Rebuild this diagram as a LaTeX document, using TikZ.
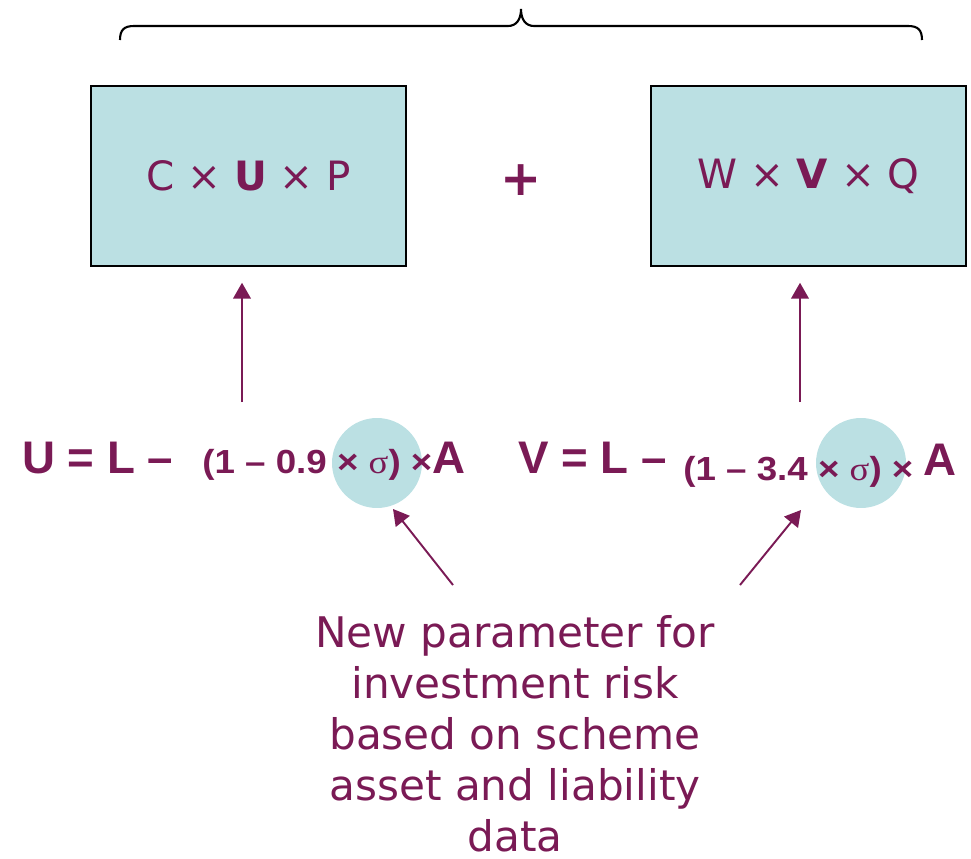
\documentclass[tikz,border=0pt]{standalone}
\usepackage{fontspec}
\usepackage{graphicx}
\setmainfont{DejaVu Sans}
\newfontfamily\eqfont{Liberation Sans}
\newfontfamily\greekfont{Liberation Serif}
\usetikzlibrary{arrows.meta}
\definecolor{plum}{HTML}{7A1A55}
\definecolor{paleteal}{HTML}{BBE0E3}

\begin{document}
\begin{tikzpicture}[x=0.02cm,y=-0.02cm,
  factor/.style={draw=black,line width=1.1pt,fill=paleteal,minimum width=6.3cm,
    minimum height=3.6cm,inner sep=0pt,text=plum,font=\fontsize{23}{27}\selectfont},
  spot/.style={circle,fill=paleteal,minimum size=1.8cm,inner sep=0pt},
  bigeq/.style={anchor=base west,inner sep=0pt,text=plum,
    font=\eqfont\bfseries\fontsize{26}{30}\selectfont},
  smalleq/.style={anchor=base west,inner sep=0pt,text=plum,
    font=\eqfont\bfseries\fontsize{19}{22}\selectfont},
  pointer/.style={draw=plum,line width=1.1pt,-{Triangle[length=9pt,width=10pt]}}]
\useasboundingbox (0,0) rectangle (971,859);
% brace over the two terms
\draw[line width=1.2pt] (120,40) .. controls (120,30) and (124,26) .. (134,26) -- (508,26)
  .. controls (516,26) and (521,20) .. (521,9) .. controls (521,20) and (526,26) .. (534,26)
  -- (908,26) .. controls (918,26) and (922,30) .. (922,40);
% the two terms
\node[factor] (boxU) at (248.5,176) {\raisebox{-2pt}{C × \textbf{U} × P}};
\node[factor] (boxV) at (808.5,176) {\raisebox{-2pt}{W × \textbf{V} × Q}};
\node[text=plum,font=\bfseries\fontsize{28}{32}\selectfont] (plus) at (521,180) {+};
% the two formulas
\node[spot] (spotU) at (377,463) {};
\node[spot] (spotV) at (861,463) {};
\node[bigeq] (lhsU) at (22,473) {U = L –};
\node[smalleq] (termU) at (202,473) {\scalebox{1.1}[1]{(1 – 0.9 × {\greekfont\mdseries σ}) ×}};
\node[bigeq] (assetU) at (432,473) {A};
\node[bigeq] (lhsV) at (518,473) {V = L –};
\node[smalleq] (termV) at (683,480) {\scalebox{1.1}[1]{(1 – 3.4 × {\greekfont\mdseries σ}) ×}};
\node[bigeq] (assetV) at (923,475) {A};
\coordinate (tailU) at (242,402);
\coordinate (tailV) at (800,402);
\draw[pointer,shorten >=9pt] (tailU) -- (tailU |- boxU.south);
\draw[pointer,shorten >=9pt] (tailV) -- (tailV |- boxV.south);
% note under the formulas
\node[text=plum,font=\fontsize{24}{29}\selectfont,align=center,anchor=north,inner sep=0pt]
  (note) at (515,615) {New parameter for\\investment risk\\based on scheme\\asset and liability\\data};
\coordinate (tailL) at (453,585);
\coordinate (tipL) at (393,509);
\coordinate (tailR) at (740,585);
\coordinate (tipR) at (801,510);
\draw[pointer] (tailL) -- (tipL);
\draw[pointer] (tailR) -- (tipR);
\end{tikzpicture}
\end{document}
